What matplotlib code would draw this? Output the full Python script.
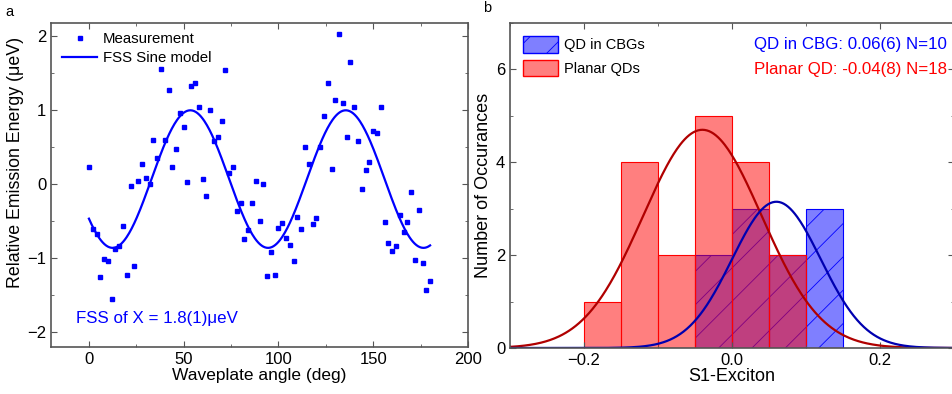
import matplotlib
matplotlib.use("Agg")
import matplotlib.pyplot as plt
import numpy as np
from matplotlib.ticker import MultipleLocator
from matplotlib.patches import Patch

plt.rcParams['font.family'] = ['Liberation Sans', 'DejaVu Sans']
plt.rcParams['font.size'] = 12
plt.rcParams['hatch.linewidth'] = 0.6

# panel a: measured emission energy vs waveplate angle
angle = [0, 2, 4, 6, 8, 10, 12, 14, 16, 18, 20, 22, 24, 26, 28, 30, 32, 34, 36, 38,
         40, 42, 44, 46, 48, 50, 52, 54, 56, 58, 60, 62, 64, 66, 68, 70, 72, 74, 76, 78,
         80, 82, 84, 86, 88, 90, 92, 94, 96, 98, 100, 102, 104, 106, 108, 110, 112, 114,
         116, 118, 120, 122, 124, 126, 128, 130, 132, 134, 136, 138, 140, 142, 144, 146,
         148, 150, 152, 154, 156, 158, 160, 162, 164, 166, 168, 170, 172, 174, 176, 178, 180]
energy = [0.24, -0.61, -0.67, -1.25, -1.01, -1.04, -1.55, -0.87, -0.83, -0.57,
          -1.23, -0.02, -1.11, 0.05, 0.27, 0.08, 0.01, 0.60, 0.35, 1.56,
          0.60, 1.28, 0.24, 0.48, 0.97, 0.77, 0.03, 1.33, 1.37, 1.04,
          0.07, -0.16, 1.00, 0.58, 0.64, 0.86, 1.54, 0.15, 0.24, -0.36,
          -0.26, -0.74, -0.62, -0.26, 0.05, -0.50, 0.00, -1.24, -0.91, -1.22,
          -0.59, -0.53, -0.73, -0.82, -1.04, -0.44, -0.61, 0.50, 0.27, -0.54,
          -0.46, 0.50, 0.92, 1.37, 0.20, 1.14, 2.03, 1.10, 0.64, 1.65,
          1.05, 0.59, -0.07, 0.19, 0.30, 0.72, 0.69, 1.04, -0.51, -0.79,
          -0.90, -0.83, -0.41, -0.65, -0.51, -0.10, -1.02, -0.35, -1.07, -1.43, -1.31]

# sine model fit parameters
sine_offset = 0.07
sine_amp = 0.93
sine_period = 82.0
sine_phase = 33.0

# panel b: histogram of S1-exciton
bin_left = [-0.20, -0.15, -0.10, -0.05, 0.00, 0.05, 0.10]
planar_counts = [1, 4, 2, 5, 4, 2, 0]
cbg_counts = [0, 0, 0, 2, 3, 2, 3]
bin_width = 0.05

# gaussian fits: amplitude, centre, sigma
cbg_fit = (3.15, 0.06, 0.06)
planar_fit = (4.70, -0.04, 0.08)

fig = plt.figure(figsize=(9.52, 3.94), dpi=100)
ax1 = fig.add_axes([0.0536, 0.1193, 0.438, 0.8223])
ax2 = fig.add_axes([0.5357, 0.1168, 0.4664, 0.8248])

spine_col = '#555555'

# ---- panel a
ax1.plot(angle, energy, 's', color='blue', ms=3.2, mec='blue', label='Measurement')
th = np.linspace(0, 180, 400)
model = sine_offset + sine_amp * np.sin(2 * np.pi * (th - sine_phase) / sine_period)
ax1.plot(th, model, color='blue', lw=1.6, label='FSS Sine model')
ax1.set_xlim(-20, 200)
ax1.set_ylim(-2.2, 2.18)
ax1.xaxis.set_major_locator(MultipleLocator(50))
ax1.xaxis.set_minor_locator(MultipleLocator(25))
ax1.yaxis.set_major_locator(MultipleLocator(1))
ax1.yaxis.set_minor_locator(MultipleLocator(0.5))
ax1.set_xlabel('Waveplate angle (deg)', fontsize=12.5, labelpad=1)
ax1.set_ylabel('Relative Emission Energy (μeV)', fontsize=12.8)
ax1.yaxis.set_label_coords(-0.066, 0.57)
ax1.text(-6.8, -1.81, 'FSS of X = 1.8(1)μeV', color='blue', va='center', ha='left',
         fontsize=12.2)
ax1.legend(loc='upper left', bbox_to_anchor=(0.02, 0.98), frameon=False,
           borderaxespad=0, borderpad=0.2, handlelength=2.3, handletextpad=0.4,
           labelspacing=0.3, fontsize=10.8)

# ---- panel b
ax2.bar(bin_left, cbg_counts, width=bin_width, align='edge', color=(0, 0, 1, 0.5),
        edgecolor='blue', lw=0.8, hatch='/', label='QD in CBGs')
ax2.bar(bin_left, planar_counts, width=bin_width, align='edge', color=(1, 0, 0, 0.5),
        edgecolor='red', lw=0.8, label='Planar QDs')
xs = np.linspace(-0.3, 0.3, 400)
a, m, s = planar_fit
ax2.plot(xs, a * np.exp(-(xs - m) ** 2 / (2 * s ** 2)), color='#b00000', lw=1.6)
a, m, s = cbg_fit
ax2.plot(xs, a * np.exp(-(xs - m) ** 2 / (2 * s ** 2)), color='#0000b0', lw=1.6)
ax2.set_xlim(-0.3, 0.3)
ax2.set_ylim(0, 7)
ax2.xaxis.set_major_locator(MultipleLocator(0.2))
ax2.xaxis.set_minor_locator(MultipleLocator(0.1))
ax2.yaxis.set_major_locator(MultipleLocator(2))
ax2.yaxis.set_minor_locator(MultipleLocator(1))
ax2.set_xlabel('S1-Exciton', fontsize=13, labelpad=0)
ax2.set_ylabel('Number of Occurances', fontsize=13, labelpad=3)
ax2.text(0.291, 6.54, 'QD in CBG: 0.06(6) N=10', color='blue', ha='right', va='center',
         fontsize=12.2)
ax2.text(0.291, 6.0, 'Planar QD: -0.04(8) N=18', color='red', ha='right', va='center',
         fontsize=12.2)
handles = [Patch(facecolor=(0, 0, 1, 0.5), edgecolor='blue', hatch='/'),
           Patch(facecolor=(1, 0, 0, 0.5), edgecolor='red')]
ax2.legend(handles, ['QD in CBGs', 'Planar QDs'], loc='upper left', frameon=False,
           borderaxespad=0.5, handlelength=2.4, handleheight=1.4, handletextpad=0.4,
           labelspacing=0.45, fontsize=10.5)

for ax in (ax1, ax2):
    ax.tick_params(which='both', direction='in', top=True, right=True, color=spine_col)
    ax.tick_params(which='major', length=4, labelsize=12)
    ax.tick_params(which='minor', length=2)
    for sp in ax.spines.values():
        sp.set_color(spine_col)
        sp.set_linewidth(1.2)

fig.text(9 / 952, 1 - 12 / 394, 'a', ha='center', va='center', fontsize=10.5)
fig.text(487 / 952, 1 - 8 / 394, 'b', ha='center', va='center', fontsize=10.5)

fig.savefig('out.png', dpi=100)
